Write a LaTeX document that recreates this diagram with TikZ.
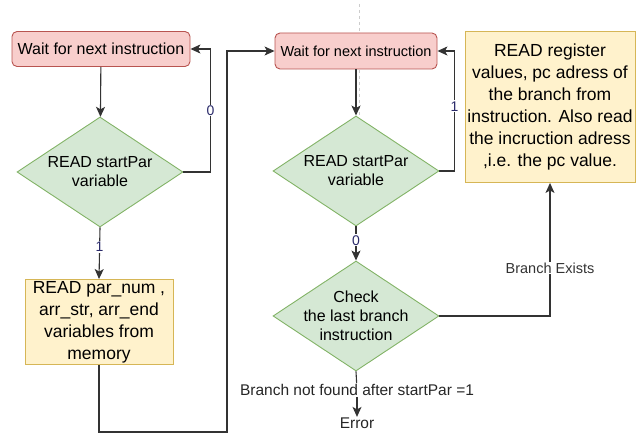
\documentclass[tikz,border=0pt]{standalone}
\usepackage{fontspec}
\setmainfont{Liberation Sans}
\usepackage{tikz}
\usetikzlibrary{arrows.meta,positioning,shapes.geometric}
\definecolor{waitfill}{HTML}{F8CECC}
\definecolor{waitdraw}{HTML}{B85450}
\definecolor{readfill}{HTML}{D5E8D4}
\definecolor{readdraw}{HTML}{82B366}
\definecolor{memfill}{HTML}{FFF2CC}
\definecolor{memdraw}{HTML}{D6B656}
\definecolor{lblcol}{HTML}{2A2A6A}
\tikzset{>/.tip={Stealth[length=10pt,width=9pt,inset=2.5pt]}}
\tikzset{
  waitbox/.style={draw=waitdraw,fill=waitfill,rounded corners=5pt,line width=0.9pt,
    font=\fontsize{16}{19}\selectfont,inner sep=0pt},
  readbox/.style={diamond,draw=readdraw,fill=readfill,line width=0.9pt,aspect=1.5,
    inner sep=-12pt,minimum width=166pt,minimum height=110pt,align=center,
    font=\fontsize{16}{19}\selectfont},
  membox/.style={draw=memdraw,fill=memfill,line width=0.9pt,align=center,inner sep=0pt,
    font=\fontsize{17.5}{22}\selectfont},
  flow/.style={->,draw=black!80,line width=1.1pt},
  link/.style={draw=black!80,line width=1.1pt},
  lbl/.style={fill=white,inner sep=1pt,text=lblcol,font=\fontsize{14}{16}\selectfont},
  txt/.style={inner sep=1pt,text=black!85,font=\fontsize{15.5}{18}\selectfont}
}
\begin{document}
\begin{tikzpicture}[x=1pt,y=-1pt,node distance=1em and 3em]
  \useasboundingbox (0,0) rectangle (643,438);
  \coordinate (guide) at (359,4);
  \draw[dashed,gray!40,line width=0.6pt] (guide) -- ++(0,112);

  \node[waitbox,minimum width=178pt,minimum height=35pt] (wait1) at (101,49) {Wait for next instruction};
  \node[readbox] (read1) at (100,172) {READ startPar\\variable};
  \node[membox,minimum width=148pt,minimum height=85pt] (par1) at (99,322)
    {READ par\_num ,\\arr\_str, arr\_end\\variables from\\memory};

  \node[waitbox,minimum width=162pt,minimum height=36pt,font=\fontsize{14.5}{17}\selectfont] (wait2) at (356,51) {Wait for next instruction};
  \node[readbox] (read2) at (356,171) {READ startPar\\variable};
  \node[readbox] (check) at (356,316) {Check\\the last branch\\instruction};
  \node[membox,minimum width=170pt,minimum height=151pt] (regval) at (550,107)
    {READ register\\values, pc adress of\\the branch from\\instruction. Also read\\the incruction adress\\,i.e. the pc value.};

  \node[txt] (notfound) at (357,390) {Branch not found after startPar =1};
  \node[txt,below=20pt of notfound] (error) {Error};
  \coordinate (bend) at (227,432);

  \draw[flow] (wait1) -- (read1);
  \draw[flow] (read1.east) -- ++(27,0) |- node[lbl,pos=0.25]{0} (wait1.east);
  \draw[flow] (read1.south) -- node[lbl,pos=0.38]{1} (par1.north);
  \draw[flow] (par1.south) |- (bend) |- (wait2.west);

  \draw[flow] (wait2) -- (read2);
  \draw[flow] (read2.east) -- ++(15,0) |- node[lbl,pos=0.27]{1} (wait2.east);
  \draw[flow] (read2.south) -- node[lbl,pos=0.41]{0} (check.north);
  \draw[flow] (check.east) -| node[lbl,pos=0.68,text=black!80,font=\fontsize{14.5}{16}\selectfont]{Branch Exists} (regval.south);
  \draw[link] (check.south) -- (notfound);
  \draw[flow] (notfound) -- (error);
\end{tikzpicture}
\end{document}
